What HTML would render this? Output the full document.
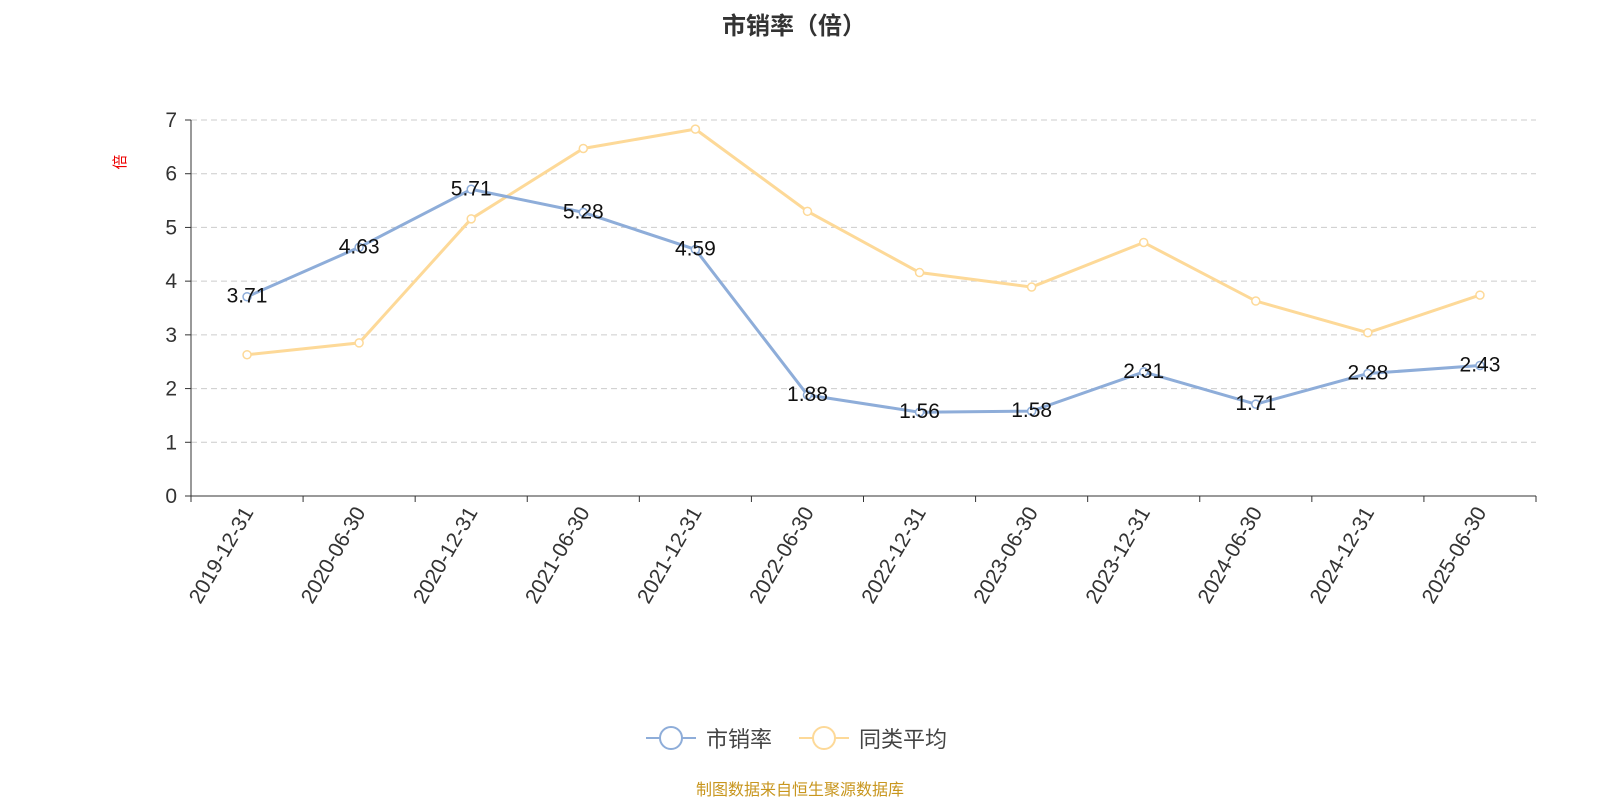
<!DOCTYPE html>
<html><head><meta charset="utf-8"><style>
body{margin:0;background:#fff;}
svg text{font-family:"Liberation Sans","Noto Sans CJK SC",sans-serif;}
</style></head><body>
<svg id="c" width="1600" height="800" xmlns="http://www.w3.org/2000/svg">
<text x="794" y="34" text-anchor="middle" font-size="24" font-weight="bold" fill="#333">市销率（倍）</text>
<text transform="translate(125,162) rotate(-90)" text-anchor="middle" font-size="15" fill="#e00">倍</text>
<g id="grid"></g>
<g id="axes"></g>
<g id="series"></g>
<g>
<g>
<line x1="646" y1="738" x2="696" y2="738" stroke="#8eadd9" stroke-width="2"/>
<circle cx="671" cy="738" r="11" fill="#fff" stroke="#8eadd9" stroke-width="2"/>
<text x="706" y="747" font-size="22" fill="#444">市销率</text></g>
<g>
<line x1="799" y1="738" x2="849" y2="738" stroke="#fdd998" stroke-width="2"/>
<circle cx="824" cy="738" r="11" fill="#fff" stroke="#fdd998" stroke-width="2"/>
<text x="859" y="747" font-size="22" fill="#444">同类平均</text></g>
</g>
<text x="800" y="795" text-anchor="middle" font-size="16" fill="#c8961e">制图数据来自恒生聚源数据库</text>
</svg>
<script>
const categories=["2019-12-31","2020-06-30","2020-12-31","2021-06-30","2021-12-31","2022-06-30","2022-12-31","2023-06-30","2023-12-31","2024-06-30","2024-12-31","2025-06-30"];
const psr=[3.71,4.63,5.71,5.28,4.59,1.88,1.56,1.58,2.31,1.71,2.28,2.43];
const peerAvg=[2.63,2.85,5.16,6.47,6.83,5.30,4.16,3.89,4.72,3.63,3.04,3.74];
const yTicks=[0,1,2,3,4,5,6,7];
const NS="http://www.w3.org/2000/svg";
const L=191,R=1536,T=120,B=496,yMax=7;
const bw=(R-L)/categories.length;
const x=i=>L+bw*(i+0.5);
const y=v=>B-(v/yMax)*(B-T);
function mk(tag,attrs,parent){const e=document.createElementNS(NS,tag);for(const k in attrs)e.setAttribute(k,attrs[k]);parent.appendChild(e);return e;}
const grid=document.getElementById('grid'),axes=document.getElementById('axes'),ser=document.getElementById('series');
yTicks.forEach(t=>{
  if(t>0){const g=mk('line',{x1:L,x2:R,y1:y(t),y2:y(t),stroke:'#ccc','stroke-dasharray':'6,4'},grid);
  
  }
  const tk=mk('line',{x1:L-6,x2:L,y1:y(t),y2:y(t),stroke:'#333'},axes);
  
  
  const lb=mk('text',{x:L-14,y:y(t)+7,'text-anchor':'end','font-size':21,fill:'#333'},axes);
  lb.textContent=t;
  
  
});
const ya=mk('line',{x1:L,x2:L,y1:T,y2:B,stroke:'#333'},axes);


const xa=mk('line',{x1:L,x2:R,y1:B,y2:B,stroke:'#333'},axes);


for(let i=0;i<=categories.length;i++){
  const tk=mk('line',{x1:L+bw*i,x2:L+bw*i,y1:B,y2:B+6,stroke:'#333'},axes);
  
  
}
categories.forEach((c,i)=>{
  const t=mk('text',{transform:`translate(${x(i)+7},${B+16}) rotate(-60)`,'text-anchor':'end','font-size':21,fill:'#333'},axes);
  t.textContent=c;
  
  
});
function drawSeries(vals,color,name,labels){
  const p=mk('polyline',{points:vals.map((v,i)=>x(i)+','+y(v)).join(' '),fill:'none',stroke:color,'stroke-width':3},ser);
  
  
  vals.forEach((v,i)=>{
    const c=mk('circle',{cx:x(i),cy:y(v),r:4,fill:'#fff',stroke:color,'stroke-width':1.5},ser);
    
    
  });
  if(labels)vals.forEach((v,i)=>{
    const t=mk('text',{x:x(i),y:y(v)+6,'text-anchor':'middle','font-size':21,fill:'#111'},ser);
    t.textContent=v.toFixed(2);
    
    
  });
}
drawSeries(peerAvg,'#fdd998','peer-avg',false);
drawSeries(psr,'#8eadd9','psr',true);
</script>
</body></html>
